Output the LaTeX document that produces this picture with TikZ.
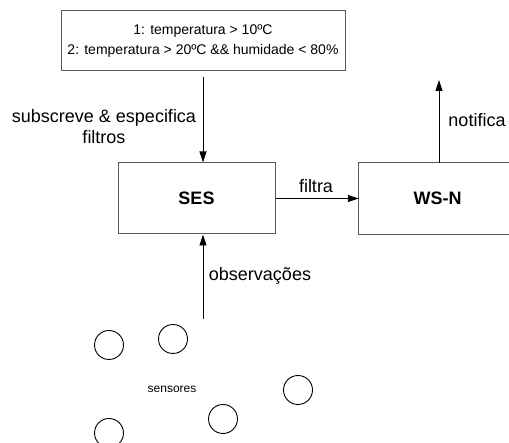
\documentclass[tikz,border=0pt]{standalone}
\usepackage{fontspec}
\setmainfont{Liberation Sans}
\usetikzlibrary{arrows.meta}
\definecolor{BoxClr}{gray}{0.35}

\begin{document}
\begin{tikzpicture}[x=1pt,y=-1pt,
  box/.style={draw=BoxClr,line width=1pt,fill=white,inner sep=0pt},
  sensor/.style={draw,circle,line width=0.9pt,minimum size=29pt,inner sep=0pt},
  lbl/.style={inner sep=0pt,font=\fontsize{18}{21}\selectfont,align=center},
  arr/.style={line width=0.9pt,-{Triangle[length=11pt,width=7pt]}}]
\useasboundingbox (0,0) rectangle (509,443);

% caixas
\node[box,minimum width=284pt,minimum height=60pt,align=center,
  font=\fontsize{14}{20}\selectfont] (filtros) at (203,41)
  {1: temperatura > 10ºC\\2: temperatura > 20ºC \&\& humidade < 80\%};
\node[box,minimum width=157pt,minimum height=71pt,font=\fontsize{18}{21}\selectfont\bfseries]
  (ses) at (196.5,198.5) {SES};
% a caixa WS-N sai da margem direita
\node[inner sep=0pt,minimum width=157pt,minimum height=71pt,font=\fontsize{18}{21}\selectfont\bfseries]
  (wsn) at (437.5,198.5) {WS-N};
\draw[BoxClr,line width=1pt] (wsn.north east) ++(10,0) -- (wsn.north west)
  -- (wsn.south west) -- ++(170,0);

% sensores
\node[sensor] (s1) at (109,345) {};
\node[sensor] (s2) at (173,339) {};
\node[sensor] (s3) at (298,390) {};
\node[sensor] (s4) at (223,419) {};
\node[sensor] (s5) at (109,433) {};
\node[inner sep=0pt,font=\fontsize{12}{14}\selectfont] (sens) at (172,389) {sensores};

\coordinate (subtop) at (203,77);
\coordinate (notiftip) at (439,80);
\coordinate (obsbase) at (203,319);

\draw[arr] (subtop) -- (subtop |- ses.north);
\draw[arr] (ses.east) -- (wsn.west);
\draw[arr] (notiftip |- wsn.north) -- (notiftip);
\draw[arr] (obsbase) -- (obsbase |- ses.south);

\node[lbl] (lsub) at (104,126.5) {subscreve \& especifica\\filtros};
\node[lbl] (lfil) at (316,186) {filtra};
\node[lbl] (lnot) at (477,120) {notifica};
\node[lbl] (lobs) at (260,276) {observações};

\end{tikzpicture}
\end{document}
